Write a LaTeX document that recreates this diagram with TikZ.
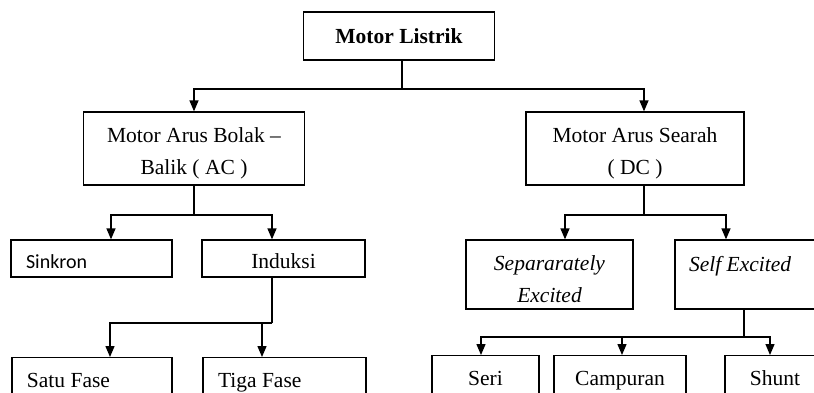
\documentclass[tikz,border=0pt]{standalone}
\usepackage{fontspec}
\setmainfont{Liberation Serif}
\newfontfamily\calfont{Carlito}
\usetikzlibrary{arrows.meta}
\newcommand{\toppad}{\rule{0pt}{25pt}}
\begin{document}
\begin{tikzpicture}[x=1pt,y=-1pt,
  box/.style={draw, line width=1.3pt, inner sep=0pt, align=center,
    font=\fontsize{21.5}{32}\selectfont},
  oneline/.style={text height=20pt, text depth=0pt},
  lowrow/.style={box, anchor=north, minimum height=46pt, text height=16pt, text depth=2pt},
  conn/.style={line width=1.3pt},
  arr/.style={conn, -{Triangle[length=11pt,width=9pt]}}]
\fill[white] (0,0) rectangle (814,392);
\clip (0,0) rectangle (814,392);
% level 0
\node[box, minimum width=191pt, minimum height=48pt, text height=14pt, text depth=0pt,
  font=\bfseries\fontsize{21.5}{32}\selectfont] (ml) at (399,36) {Motor Listrik};
% level 1
\node[box, minimum width=221pt, minimum height=73pt] (ac) at (194,148.5) {\toppad Motor Arus Bolak –\\Balik ( AC )};
\node[box, minimum width=218pt, minimum height=73pt] (dc) at (635,148.5) {\toppad Motor Arus Searah\\( DC )};
% level 2
\node[box, oneline, minimum width=161pt, minimum height=37pt, text width=131pt, align=flush left,
  font=\calfont\fontsize{20}{24}\selectfont] (sk) at (91.5,258.5) {Sinkron};
\node[box, oneline, minimum width=163pt, minimum height=37pt] (ind) at (283.5,258.5) {Induksi};
\node[box, minimum width=167pt, minimum height=69pt,
  font=\itshape\fontsize{21.5}{32}\selectfont] (sep) at (549.5,274.5) {\toppad Separarately\\Excited};
\node[box, minimum width=150pt, minimum height=69pt, text width=122pt, align=flush left,
  font=\itshape\fontsize{21.5}{32}\selectfont] (self) at (750,274.5) {\toppad Self Excited\\\mbox{}};
% level 3
\node[lowrow, minimum width=160pt, text width=130pt, align=flush left] (satu) at (92,357) {Satu Fase};
\node[lowrow, minimum width=163pt, text width=133pt, align=flush left] (tiga) at (284.5,357) {Tiga Fase};
\node[lowrow, minimum width=107pt] (seri) at (485.5,355) {Seri};
\node[lowrow, minimum width=132pt] (camp) at (620,355) {Campuran};
\node[lowrow, minimum width=100pt] (shunt) at (775,355) {Shunt};
% connectors
\coordinate (j1) at (402,89);
\draw[conn] ([xshift=3pt]ml.south) -- (j1);
\draw[arr] (j1) -| (ac.north);
\draw[arr] (j1) -| ([xshift=9pt]dc.north);

\coordinate (j2) at (194,215);
\draw[conn] (ac.south) -- (j2);
\draw[arr] (j2) -| ([xshift=19.5pt]sk.north);
\draw[arr] (j2) -| ([xshift=-11.5pt]ind.north);

\coordinate (j3) at (272,323);
\draw[conn] ([xshift=-11.5pt]ind.south) -- (j3);
\draw[arr] (j3) -| ([xshift=18pt]satu.north);
\draw[arr] (j3) -| ([xshift=-22.5pt]tiga.north);

\coordinate (j4) at (644,215);
\draw[conn] ([xshift=9pt]dc.south) -- (j4);
\draw[arr] (j4) -| ([xshift=15.5pt]sep.north);
\draw[arr] (j4) -| ([xshift=-24pt]self.north);

\coordinate (j5) at (744,337);
\draw[conn] ([xshift=-6pt]self.south) -- (j5);
\draw[arr] (j5) -| ([xshift=-4.5pt]seri.north);
\draw[arr] (j5) -| ([xshift=2pt]camp.north);
\draw[arr] (j5) -| ([xshift=-5pt]shunt.north);
\end{tikzpicture}
\end{document}
